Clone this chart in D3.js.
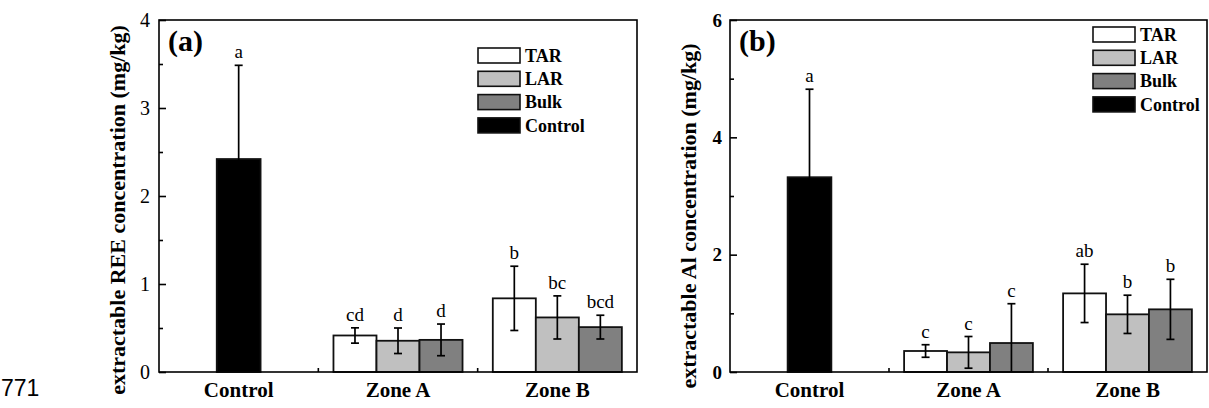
<!DOCTYPE html>
<html>
<head>
<meta charset="utf-8">
<script src="https://cdn.jsdelivr.net/npm/d3@7"></script>
<style>
  body { margin: 0; background: #fff; }
  svg { display: block; }
  text { font-family: "Liberation Serif", "Times New Roman", serif; fill: #000; }
</style>
</head>
<body>
<svg id="chart"></svg>
<script>
// categories and series
var categories = ["Control", "Zone A", "Zone B"];
var zones = ["Zone A", "Zone B"];
var seriesNames = ["TAR", "LAR", "Bulk"];
var legendNames = ["TAR", "LAR", "Bulk", "Control"];
var legendFills = ["#ffffff", "#c0c0c0", "#808080", "#000000"];

// (a) extractable REE, mg/kg  (values for Zone A, Zone B)
var reeTar = [0.415, 0.837], reeTarSd = [0.087, 0.365];
var reeLar = [0.355, 0.62], reeLarSd = [0.145, 0.245];
var reeBulk = [0.365, 0.51], reeBulkSd = [0.18, 0.135];
var reeCtrl = 2.42, reeCtrlSd = 1.065;
var reeLetters = [["cd", "b"], ["d", "bc"], ["d", "bcd"]];
var reeCtrlLetter = "a";
var reeTicks = [0, 1, 2, 3, 4];
var reeMinor = [0.5, 1.5, 2.5, 3.5];

// (b) extractable Al, mg/kg
var alTar = [0.358, 1.34], alTarSd = [0.107, 0.497];
var alLar = [0.335, 0.983], alLarSd = [0.27, 0.326];
var alBulk = [0.494, 1.068], alBulkSd = [0.67, 0.512];
var alCtrl = 3.32, alCtrlSd = 1.5;
var alLetters = [["c", "ab"], ["c", "b"], ["c", "b"]];
var alCtrlLetter = "a";
var alTicks = [0, 2, 4, 6];
var alMinor = [1, 3, 5];

var svg = d3.select("#chart").attr("width", 1209).attr("height", 408);
svg.append("rect").attr("width", 1209).attr("height", 408).attr("fill", "#fff");

var drawPanel = function(p)
{
    var g = svg.append("g").attr("transform", "translate(" + p.left + "," + p.top + ")");
    var width = p.width, height = p.height;

    var xScale = d3.scaleBand().domain(categories).range([0, width]);
    var yScale = d3.scaleLinear().domain(p.domain).range([height, 0]);
    var bw = xScale.bandwidth() * 0.27;
    var sub = d3.scaleBand().domain(seriesNames).range([-1.5 * bw, 1.5 * bw]);

    // rows for zone bars
    var rows = [];
    seriesNames.forEach(function(s, i) {
        zones.forEach(function(z, j) {
            rows.push({cat: z, series: s, fill: legendFills[i],
                       v: p.means[i][j], sd: p.sds[i][j], letter: p.letters[i][j]});
        });
    });
    var ctrlRow = {cat: "Control", fill: "#000", v: p.ctrl, sd: p.ctrlSd, letter: p.ctrlLetter};

    var cx = function(d) {
        var c = xScale(d.cat) + xScale.bandwidth() / 2;
        return d.series ? c + sub(d.series) + bw / 2 : c;
    };

    // axes (ticks inward)
    g.append("g").attr("class", "yminor")
        .call(d3.axisLeft(yScale).tickValues(p.minor).tickSize(-4).tickSizeOuter(0).tickFormat(""));
    var ya = g.append("g").attr("class", "yaxis")
        .call(d3.axisLeft(yScale).tickValues(p.ticks).tickSize(-7).tickSizeOuter(0)
              .tickPadding(p.tickPad).tickFormat(d3.format("d")));
    ya.selectAll("text").style("font-size", p.tickFont + "px")
        .style("font-weight", p.tickBold ? "bold" : "normal");

    var xa = g.append("g").attr("transform", "translate(0," + height + ")")
        .call(d3.axisBottom(xScale).tickSize(-6).tickSizeOuter(0).tickPadding(10));
    xa.selectAll("text").style("font-size", "21px").style("font-weight", "bold").attr("dy", "0.71em");
    // minor ticks between categories
    g.append("g").attr("transform", "translate(0," + height + ")")
        .selectAll("line").data(categories.slice(1)).join("line")
        .attr("x1", function(d) { return xScale(d); })
        .attr("x2", function(d) { return xScale(d); })
        .attr("y1", 0).attr("y2", -4)
        .attr("stroke", "#000").attr("stroke-width", 1.6);

    g.selectAll(".domain").remove();
    g.selectAll(".tick line").attr("stroke", "#000").attr("stroke-width", 1.6);

    var barW = function(d) { return d.series ? bw : xScale.bandwidth() * 0.275; };

    var all = rows.concat([ctrlRow]);
    g.selectAll("rect.bar").data(all).join("rect").attr("class", "bar")
        .attr("x", function(d) { return cx(d) - barW(d) / 2; })
        .attr("y", function(d) { return yScale(d.v); })
        .attr("width", barW)
        .attr("height", function(d) { return height - yScale(d.v); })
        .attr("fill", function(d) { return d.fill; })
        .attr("stroke", "#111").attr("stroke-width", 1.8);

    // error bars
    var eb = g.selectAll("g.err").data(all).join("g").attr("class", "err")
        .attr("stroke", "#000").attr("stroke-width", 1.7);
    eb.append("line")
        .attr("x1", cx).attr("x2", cx)
        .attr("y1", function(d) { return yScale(d.v + d.sd); })
        .attr("y2", function(d) { return yScale(Math.max(0, d.v - d.sd)); });
    eb.append("line")
        .attr("x1", function(d) { return cx(d) - 4; }).attr("x2", function(d) { return cx(d) + 4; })
        .attr("y1", function(d) { return yScale(d.v + d.sd); })
        .attr("y2", function(d) { return yScale(d.v + d.sd); });
    eb.filter(function(d) { return d.v - d.sd > 0; }).append("line")
        .attr("x1", function(d) { return cx(d) - 4; }).attr("x2", function(d) { return cx(d) + 4; })
        .attr("y1", function(d) { return yScale(d.v - d.sd); })
        .attr("y2", function(d) { return yScale(d.v - d.sd); });

    g.selectAll("text.letter").data(all).join("text").attr("class", "letter")
        .attr("x", cx)
        .attr("y", function(d) { return yScale(d.v + d.sd) - 7; })
        .attr("text-anchor", "middle")
        .style("font-size", "19px")
        .text(function(d) { return d.letter; });

    // frame
    g.append("rect").attr("width", width).attr("height", height)
        .attr("fill", "none").attr("stroke", "#000").attr("stroke-width", 1.6);

    g.append("text").attr("x", 9).attr("y", 31)
        .style("font-size", "30px").style("font-weight", "bold").text(p.tag);

    // legend
    var lg = g.append("g").attr("transform", "translate(" + p.legX + "," + p.legY + ")");
    var li = lg.selectAll("g").data(legendNames).join("g")
        .attr("transform", function(d, i) { return "translate(0," + (i * 23.3) + ")"; });
    li.append("rect").attr("width", 42).attr("height", 15)
        .attr("fill", function(d, i) { return legendFills[i]; })
        .attr("stroke", "#111").attr("stroke-width", 1.6);
    li.append("text").attr("x", 47).attr("y", 7.5).attr("dy", "0.35em")
        .style("font-size", "18px").style("font-weight", "bold")
        .text(function(d) { return d; });

    // y label
    svg.append("text")
        .attr("transform", "translate(" + p.labelX + "," + p.labelY + ") rotate(-90)")
        .attr("text-anchor", "middle").attr("dy", "0.35em")
        .style("font-size", "22px").style("font-weight", "bold")
        .text(p.label);
};

drawPanel({
    left: 159, top: 20, width: 478, height: 352, domain: [0, 4],
    ticks: reeTicks, minor: reeMinor, tickFont: 20, tickBold: false, tickPad: 9,
    means: [reeTar, reeLar, reeBulk], sds: [reeTarSd, reeLarSd, reeBulkSd],
    ctrl: reeCtrl, ctrlSd: reeCtrlSd, letters: reeLetters, ctrlLetter: reeCtrlLetter,
    tag: "(a)", legX: 319, legY: 28, labelX: 117, labelY: 210,
    label: "extractable REE concentration (mg/kg)"
});

drawPanel({
    left: 730, top: 20, width: 477, height: 352, domain: [0, 6],
    ticks: alTicks, minor: alMinor, tickFont: 19, tickBold: true, tickPad: 8,
    means: [alTar, alLar, alBulk], sds: [alTarSd, alLarSd, alBulkSd],
    ctrl: alCtrl, ctrlSd: alCtrlSd, letters: alLetters, ctrlLetter: alCtrlLetter,
    tag: "(b)", legX: 363, legY: 7, labelX: 688, labelY: 216,
    label: "extractable Al concentration (mg/kg)"
});

svg.append("text").attr("x", 1).attr("y", 396)
    .style("font-family", "'Liberation Sans', Arial, sans-serif").style("font-size", "23px")
    .text("771");
</script>
</body>
</html>
